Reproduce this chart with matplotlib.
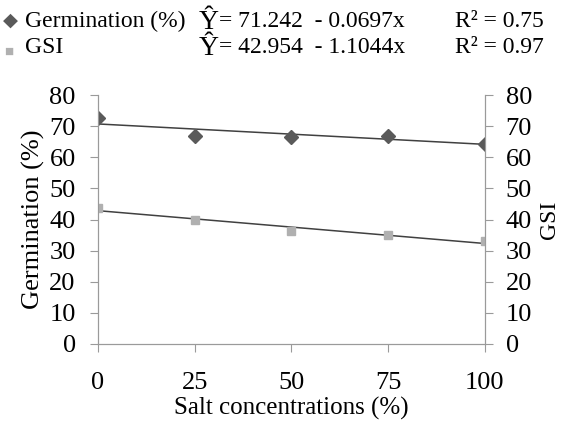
import matplotlib.pyplot as plt
import numpy as np

plt.rcParams['font.family'] = ['Liberation Serif', 'DejaVu Serif']

salt = [0, 25, 50, 75, 100]
germination = [72.5, 67.0, 66.5, 67.0, 64.3]
gsi = [43.7, 40.0, 36.2, 35.0, 33.0]
xticks = [0, 25, 50, 75, 100]
yticks = [0, 10, 20, 30, 40, 50, 60, 70, 80]

fig = plt.figure(figsize=(5.69, 4.21), dpi=100)
ax = fig.add_axes([0.172, 0.183, 0.680, 0.591])
ax2 = ax.twinx()

gcol = '#5a5a5a'
scol = '#b0b0b0'
axcol = '#9a9a9a'

ax.plot(salt, germination, 'D', color=gcol, ms=7, zorder=3)
ax.plot(salt, gsi, 's', color=scol, ms=6, zorder=3)

xs = np.array([0, 100])
for ys in (germination, gsi):
    k, b = np.polyfit(salt, ys, 1)
    ax.plot(xs, k * xs + b, color='#404040', lw=1.1, zorder=2)

for a in (ax, ax2):
    a.set_ylim(0, 80)
    a.set_yticks(yticks)
    a.spines['top'].set_visible(False)
    for s in ('left', 'right', 'bottom'):
        a.spines[s].set_color(axcol)
    a.tick_params(axis='both', colors=axcol, labelcolor='black', labelsize=19, length=6)
ax.tick_params(axis='y', pad=10)
ax2.tick_params(axis='y', pad=9)
ax.set_xlim(0, 100)
ax.set_xticks(xticks)
ax.tick_params(axis='x', pad=14)
ax.set_xlabel('Salt concentrations (%)', fontsize=18, labelpad=2)
ax.set_ylabel('Germination (%)', fontsize=19, labelpad=3)
ax2.set_ylabel('GSI', fontsize=17, labelpad=5, rotation=90)

# legend / equation block at top
r1, r2 = 0.950, 0.888
fig.text(0.006, r1, '\u25C6', fontsize=14, color=gcol, va='center')
fig.text(0.044, r1, 'Germination (%)', fontsize=17, va='center')
fig.text(0.008, r2 - 0.012, '\u25A0', fontsize=11, color=scol, va='center')
fig.text(0.044, r2, 'GSI', fontsize=17, va='center')
fig.text(0.350, r1 - 0.004, '\u0176', fontsize=20, va='center')
fig.text(0.385, r1, '= 71.242  - 0.0697x', fontsize=17, va='center')
fig.text(0.350, r2 - 0.004, '\u0176', fontsize=20, va='center')
fig.text(0.385, r2, '= 42.954  - 1.1044x', fontsize=17, va='center')
fig.text(0.800, r1, 'R\u00b2 = 0.75', fontsize=17, va='center')
fig.text(0.800, r2, 'R\u00b2 = 0.97', fontsize=17, va='center')

fig.savefig('out.png', dpi=100)
